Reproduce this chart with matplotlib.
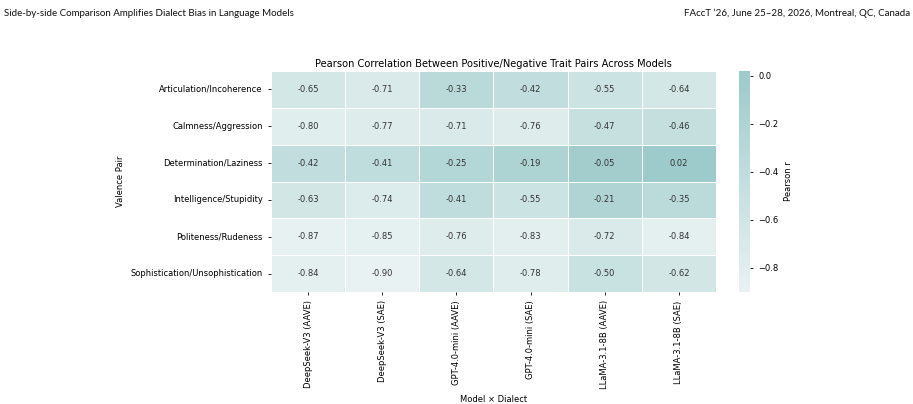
import numpy as np
import matplotlib
matplotlib.use("Agg")
import matplotlib.pyplot as plt
from matplotlib import font_manager
import seaborn as sns
from matplotlib.colors import LinearSegmentedColormap

pairs = ["Articulation/Incoherence", "Calmness/Aggression", "Determination/Laziness",
         "Intelligence/Stupidity", "Politeness/Rudeness", "Sophistication/Unsophistication"]
models = ["DeepSeek-V3 (AAVE)", "DeepSeek-V3 (SAE)", "GPT-4.0-mini (AAVE)",
          "GPT-4.0-mini (SAE)", "LLaMA-3.1-8B (AAVE)", "LLaMA-3.1-8B (SAE)"]
articulation = [-0.65, -0.71, -0.33, -0.42, -0.55, -0.64]
calmness = [-0.80, -0.77, -0.71, -0.76, -0.47, -0.46]
determination = [-0.42, -0.41, -0.25, -0.19, -0.05, 0.02]
intelligence = [-0.63, -0.74, -0.41, -0.55, -0.21, -0.35]
politeness = [-0.87, -0.85, -0.76, -0.83, -0.72, -0.84]
sophistication = [-0.84, -0.90, -0.64, -0.78, -0.50, -0.62]

r = np.array([articulation, calmness, determination, intelligence, politeness, sophistication])

cmap = LinearSegmentedColormap.from_list("tealish", ["#e9f2f2", "#9dcaca"])

# narrow font for the page header if we have it
names = {f.name for f in font_manager.fontManager.ttflist}
if "Liberation Sans Narrow" in names:
    head_font, head_size = "Liberation Sans Narrow", 9.5
else:
    head_font, head_size = "Lato", 7.0

fig = plt.figure(figsize=(9.13, 4.04), dpi=100)

# page header
fig.text(0.004, 0.967, "Side-by-side Comparison Amplifies Dialect Bias in Language Models",
         fontsize=head_size, family=head_font, va="center", ha="left", color="#111111")
fig.text(0.997, 0.967, "FAccT \u201926, June 25\u201328, 2026, Montreal, QC, Canada",
         fontsize=head_size, family=head_font, va="center", ha="right", color="#111111")

ax = fig.add_axes([0.2968, 0.2772, 0.4874, 0.547])
cax = fig.add_axes([0.8094, 0.2772, 0.012, 0.547])

sns.heatmap(r, ax=ax, cbar_ax=cax, cmap=cmap, annot=True, fmt=".2f",
            linewidths=0.5, linecolor="white",
            xticklabels=models, yticklabels=pairs,
            annot_kws={"fontsize": 6, "color": "#333333"}, cbar_kws={"label": "Pearson r"})

ax.set_title("Pearson Correlation Between Positive/Negative Trait Pairs Across Models",
             fontsize=7.1, pad=3)
ax.set_xlabel("Model \u00d7 Dialect", fontsize=6)
ax.set_ylabel("Valence Pair", fontsize=6)
ax.tick_params(axis="both", labelsize=6, length=2.5, width=0.6)
plt.setp(ax.get_xticklabels(), rotation=90)
plt.setp(ax.get_yticklabels(), rotation=0)

cax.tick_params(labelsize=6, length=2.5, width=0.6)
cax.yaxis.label.set_size(6)
cax.set_yticks([0.0, -0.2, -0.4, -0.6, -0.8])

fig.savefig("out.png", dpi=100)
